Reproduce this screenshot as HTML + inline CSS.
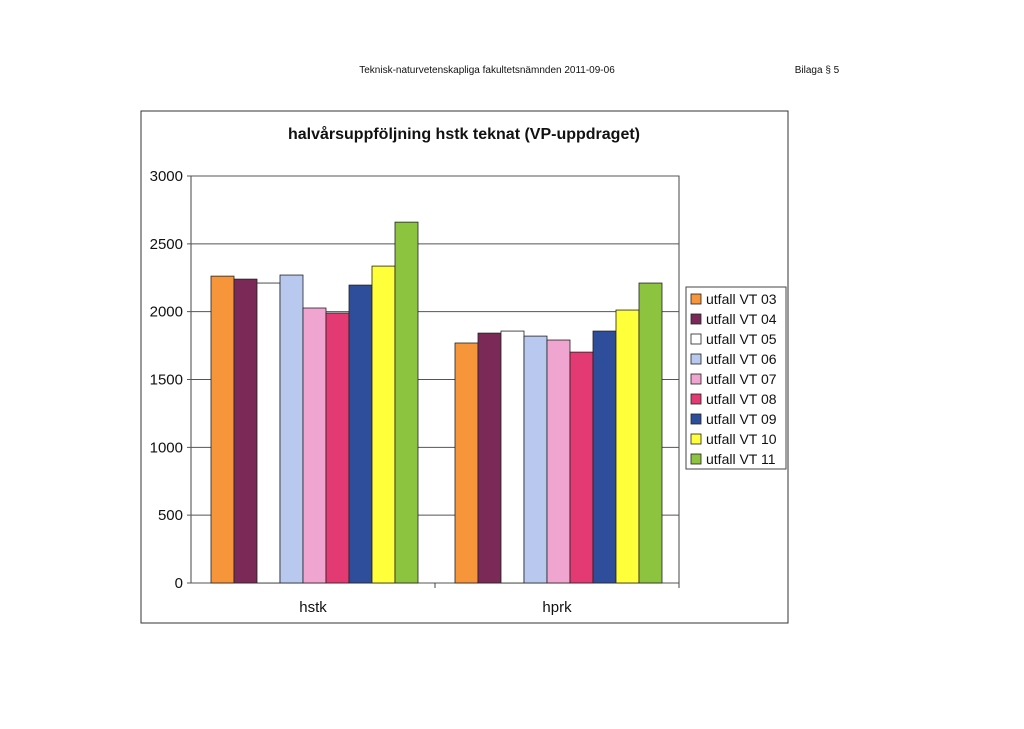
<!DOCTYPE html>
<html><head><meta charset="utf-8"><style>
body{margin:0;background:#fff;font-family:"Liberation Sans",sans-serif;}
</style></head><body>
<svg width="1024" height="724" xmlns="http://www.w3.org/2000/svg" font-family="Liberation Sans, sans-serif">
<text x="487" y="73" font-size="10" text-anchor="middle" fill="#111">Teknisk-naturvetenskapliga fakultetsnämnden 2011-09-06</text>
<text x="817" y="73" font-size="10" text-anchor="middle" fill="#111">Bilaga § 5</text>
<rect x="141" y="111" width="647" height="512" fill="none" stroke="#333" stroke-width="1"/>
<text x="464" y="139" font-size="16" font-weight="bold" text-anchor="middle" fill="#111">halvårsuppföljning hstk teknat (VP-uppdraget)</text>
<g id="grid"></g><g id="bars"></g><g id="axes"></g><g id="legend"></g>
</svg>
<script>
const categories=["hstk","hprk"];
const seriesNames=["utfall VT 03","utfall VT 04","utfall VT 05","utfall VT 06","utfall VT 07","utfall VT 08","utfall VT 09","utfall VT 10","utfall VT 11"];
const hstkValues=[2262,2240,2211,2270,2027,1990,2196,2336,2660];
const hprkValues=[1769,1842,1857,1820,1791,1702,1857,2012,2211];
const yTicks=[0,500,1000,1500,2000,2500,3000];
const colors=["#f7953b","#7b2a57","#ffffff","#b8c8ee","#f0a4d0","#e43a73","#2e4d9a","#ffff3a","#8cc43f"];
const NS="http://www.w3.org/2000/svg";
const X0=191,X1=679,Y0=583,Y1=176,YMAX=3000;
const y=v=>Y0-(v/YMAX)*(Y0-Y1);
const catW=(X1-X0)/categories.length;
const barW=23;
function mk(t,a,p){const e=document.createElementNS(NS,t);for(const k in a)e.setAttribute(k,a[k]);p.appendChild(e);return e;}
const grid=document.getElementById('grid'),bars=document.getElementById('bars'),axes=document.getElementById('axes'),leg=document.getElementById('legend');
mk('rect',{x:X0,y:Y1,width:X1-X0,height:Y0-Y1,fill:'#fff',stroke:'#444'},grid);
yTicks.forEach(t=>{
 const l=mk('line',{x1:X0-4,x2:X1,y1:y(t),y2:y(t),stroke:'#555','stroke-width':1},grid);
 
 
 const tx=mk('text',{x:X0-8,y:y(t)+5,'font-size':15,'text-anchor':'end',fill:'#111'},axes);
 tx.textContent=t;
 
 
});
const all=[hstkValues,hprkValues];
categories.forEach((c,ci)=>{
 const start=X0+ci*catW+20;
 all[ci].forEach((v,si)=>{
  const r=mk('rect',{x:start+si*barW,y:y(v),width:barW,height:Y0-y(v),fill:colors[si],stroke:'#222','stroke-width':0.8},bars);
  
  
 });
 const tx=mk('text',{x:X0+ci*catW+catW/2,y:612,'font-size':15,'text-anchor':'middle',fill:'#111'},axes);
 tx.textContent=c;
 
 
 const tk=mk('line',{x1:X0+(ci+1)*catW,x2:X0+(ci+1)*catW,y1:Y0,y2:Y0+5,stroke:'#444'},axes);
 
 
});
const lb=mk('rect',{x:686,y:287,width:100,height:182,fill:'#fff',stroke:'#444'},leg);


seriesNames.forEach((n,i)=>{
 const yy=299+i*20;
 const s=mk('rect',{x:691,y:yy-5,width:10,height:10,fill:colors[i],stroke:'#222','stroke-width':0.8},leg);
 
 
 const t=mk('text',{x:706,y:yy+5,'font-size':14,fill:'#111'},leg);
 t.textContent=n;
 
 
});
</script>
</body></html>
